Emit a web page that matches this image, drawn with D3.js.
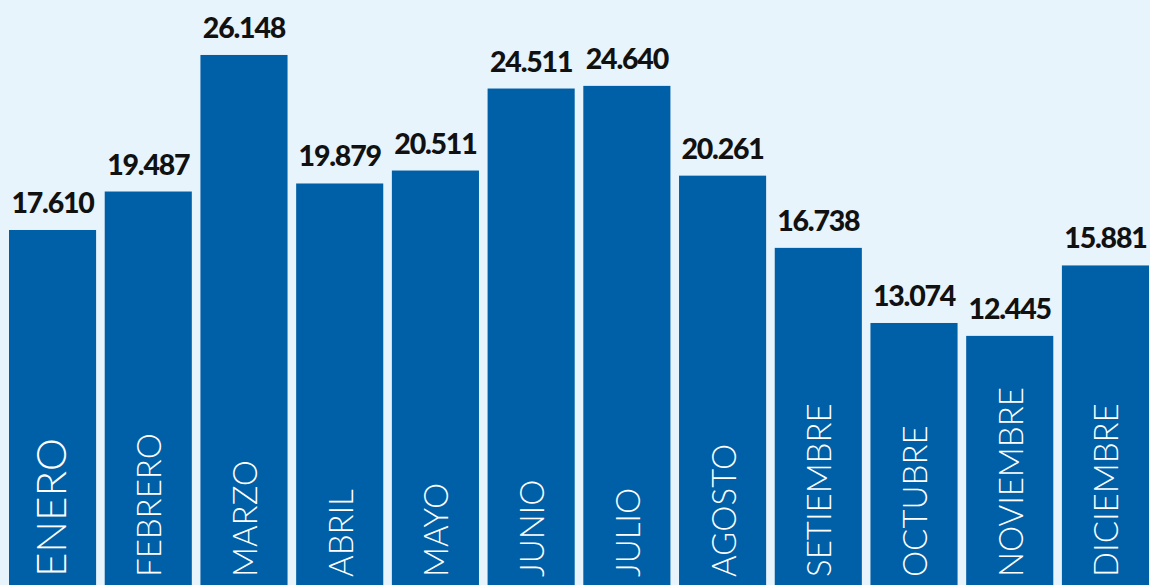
<!DOCTYPE html>
<html>
<head>
<meta charset="utf-8">
<script src="https://cdn.jsdelivr.net/npm/d3@7"></script>
<style>
  html, body { margin: 0; padding: 0; background: #e8f4fc; }
  svg { display: block; }
</style>
</head>
<body>
<svg id="chart"></svg>
<script>
const width = 1150;
const height = 585;

// Monthly totals
const months = ["ENERO", "FEBRERO", "MARZO", "ABRIL", "MAYO", "JUNIO",
                "JULIO", "AGOSTO", "SETIEMBRE", "OCTUBRE", "NOVIEMBRE", "DICIEMBRE"];
const values = [17610, 19487, 26148, 19879, 20511, 24511,
                24640, 20261, 16738, 13074, 12445, 15881];

const data = months.map((m, i) => ({ month: m, value: values[i] }));

// Spanish-style thousands separator
const locale = d3.formatLocale({ decimal: ",", thousands: ".", grouping: [3], currency: ["", ""] });
const fmt = locale.format(",d");

const svg = d3.select("#chart")
    .attr("width", width)
    .attr("height", height);

svg.append("rect")
    .attr("width", width)
    .attr("height", height)
    .attr("fill", "#e8f4fc");

const x = d3.scaleBand()
    .domain(months)
    .range([9, 1149])
    .paddingInner(0.09)
    .paddingOuter(0);

const y = d3.scaleLinear()
    .domain([0, 28000])
    .range([591, 17]);

// Bars
svg.append("g")
    .selectAll("rect")
    .data(data)
    .join("rect")
    .attr("x", d => x(d.month))
    .attr("y", d => y(d.value))
    .attr("width", x.bandwidth())
    .attr("height", d => y(0) - y(d.value))
    .attr("fill", "#0060a7");

// Value labels above bars
svg.append("g")
    .selectAll("text")
    .data(data)
    .join("text")
    .attr("x", d => x(d.month) + x.bandwidth() / 2)
    .attr("y", d => y(d.value) - 17)
    .attr("text-anchor", "middle")
    .attr("font-family", "Lato, 'Open Sans', sans-serif")
    .attr("font-weight", 900)
    .attr("font-size", 28.5)
    .attr("letter-spacing", -1.2)
    .attr("fill", "#111")
    .text(d => fmt(d.value));

// Month names, rotated inside the bars
svg.append("g")
    .selectAll("text")
    .data(data)
    .join("text")
    .attr("transform", (d, i) => {
        const cx = x(d.month) + x.bandwidth() / 2 + 13;
        return `translate(${cx},577) rotate(-90)`;
    })
    .attr("text-anchor", "start")
    .attr("font-family", "Lato, 'Open Sans', sans-serif")
    .attr("font-weight", 300)
    .attr("font-size", (d, i) => i === 0 ? 42 : 33)
    .attr("fill", "#ffffff")
    .text(d => d.month);
</script>
</body>
</html>
